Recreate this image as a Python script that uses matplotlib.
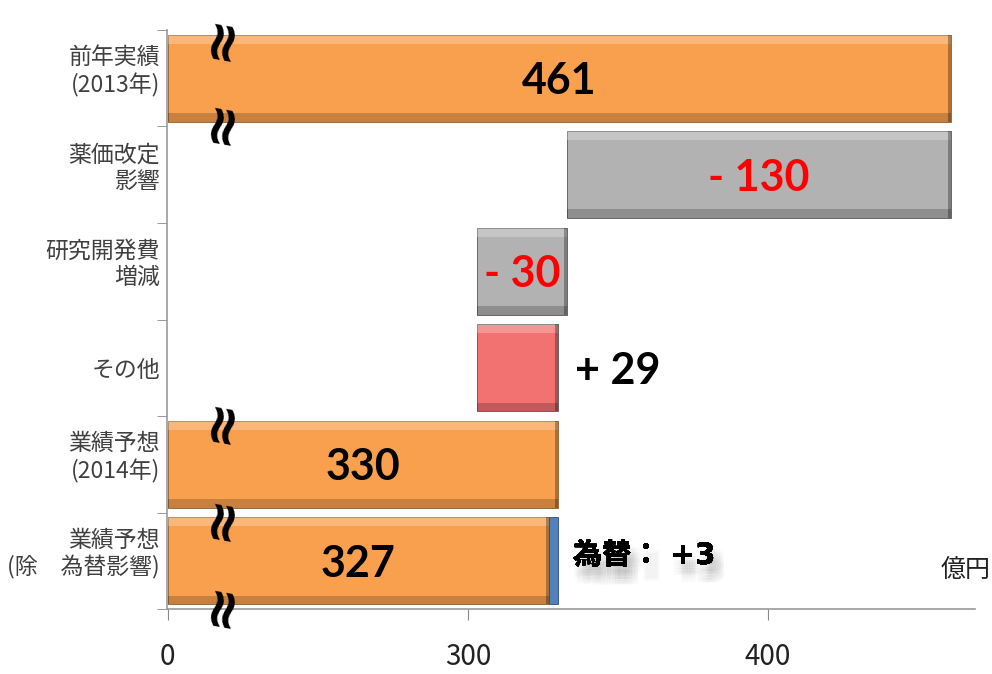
import numpy as np
import matplotlib.pyplot as plt
import matplotlib.patheffects as pe
import matplotlib.transforms as mtransforms

plt.rcParams['font.family'] = ['Noto Sans CJK JP', 'DejaVu Sans']

# categories (top to bottom)
categories = ['前年実績\n(2013年)', '薬価改定\n影響', '研究開発費\n増減', 'その他',
              '業績予想\n(2014年)', '業績予想\n(除　為替影響)']
# bar extents (億円), 0 = axis origin (broken axis)
bar_start = [0, 333, 303, 303, 0, 0]
bar_end = [461, 461, 333, 330, 330, 327]
bar_colors = ['#F9A04E', '#B2B2B2', '#B2B2B2', '#F27272', '#F9A04E', '#F9A04E']
bar_labels = ['461', '- 130', '- 30', '+ 29', '330', '327']
label_colors = ['black', 'red', 'red', 'black', 'black', 'black']
# fx effect segment on the last row
fx_start, fx_end = 327, 330
fx_label = '為替： +3'

BREAK = 200          # axis value that is shown as "0"
xticks = [0, 300, 400]


def disp(v):
    return BREAK if v == 0 else v


def bevel_bar(ax, y, left, right, color, h=0.9):
    w = right - left
    edge = '#8a5a2a' if color == '#F9A04E' else '#555555'
    ax.barh(y, w, left=left, height=h, color=color, edgecolor=edge, linewidth=0.6, zorder=2)
    ax.barh(y - h / 2 + h * 0.05, w, left=left, height=h * 0.10, color='white', alpha=0.25,
            linewidth=0, zorder=3)
    ax.barh(y + h / 2 - h * 0.05, w, left=left, height=h * 0.10, color='black', alpha=0.2,
            linewidth=0, zorder=3)
    ax.barh(y, 1.0, left=right - 1.0, height=h, color='black', alpha=0.3, linewidth=0, zorder=3)


fig = plt.figure(figsize=(9.92, 6.74), dpi=100)
ax = fig.add_axes([0.1683, 0.0964, 0.8147, 0.8591])

ypos = np.arange(len(categories))
for i in ypos:
    bevel_bar(ax, i, disp(bar_start[i]), bar_end[i], bar_colors[i])

# fx segment
ax.barh(ypos[-1], fx_end - fx_start, left=fx_start, height=0.9, color='#4F81BD',
        edgecolor='#2c4d75', linewidth=0.6, zorder=2)

# value labels
label_x = [(disp(bar_start[0]) + bar_end[0]) / 2, (bar_start[1] + bar_end[1]) / 2,
           (bar_start[2] + bar_end[2]) / 2, bar_end[3] + 20,
           (disp(bar_start[4]) + bar_end[4]) / 2, (disp(bar_start[5]) + bar_end[5]) / 2]
for i in ypos:
    ax.text(label_x[i], i + 0.03, bar_labels[i], ha='center', va='center', fontsize=31,
            fontweight='bold', family=['Lato', 'DejaVu Sans'], color=label_colors[i], zorder=5)

# soft, blurred-looking drop shadow
shadow = [pe.withSimplePatchShadow(offset=(dx, -dy), shadow_rgbFace='#777777', alpha=0.022)
          for dx in range(0, 10, 2) for dy in range(5, 15, 2)]
ax.text(fx_end + 5, ypos[-1] - 0.05, fx_label, ha='left', va='center', fontsize=21,
        fontweight='bold', family=['DejaVu Sans', 'Noto Sans CJK JP'], color='black', zorder=5,
        path_effects=shadow + [pe.Normal()])
ax.text(474, 5.1, '億円', ha='right', va='center', fontsize=18, color='#222222', clip_on=False)

# break marks
break_y = [-0.42, 0.45, 3.55, 4.55, 5.45]
for by in break_y:
    ax.text(218, by, '≈', rotation=80, ha='center', va='center', fontsize=40,
            fontweight='bold', family='DejaVu Sans', color='black', zorder=6, clip_on=False)

ax.set_xlim(BREAK - 0.3, 469)
ax.set_ylim(len(categories) - 0.5, -0.5)
ax.set_xticks([disp(v) for v in xticks])
ax.set_xticklabels([str(v) for v in xticks], fontsize=20, color='#222222')
ax.tick_params(axis='x', length=8, color='#888888', pad=16)
ax.set_yticks(ypos)
ax.set_yticklabels(categories, fontsize=16.5, color='#404040', linespacing=1.2)
ax.tick_params(axis='y', length=0, pad=5)
ax.set_yticks(np.arange(-0.5, len(categories), 1), minor=True)
ax.tick_params(axis='y', which='minor', length=7, color='#888888')

# two-line labels sit a little above the band centre
up = mtransforms.ScaledTranslation(0, 0.11, fig.dpi_scale_trans)
for lab in ax.get_yticklabels():
    if '\n' in lab.get_text():
        lab.set_transform(lab.get_transform() + up)

for s in ['top', 'right']:
    ax.spines[s].set_visible(False)
for s in ['left', 'bottom']:
    ax.spines[s].set_color('#999999')
    ax.spines[s].set_linewidth(1.2)

fig.savefig('out.png', dpi=100)
